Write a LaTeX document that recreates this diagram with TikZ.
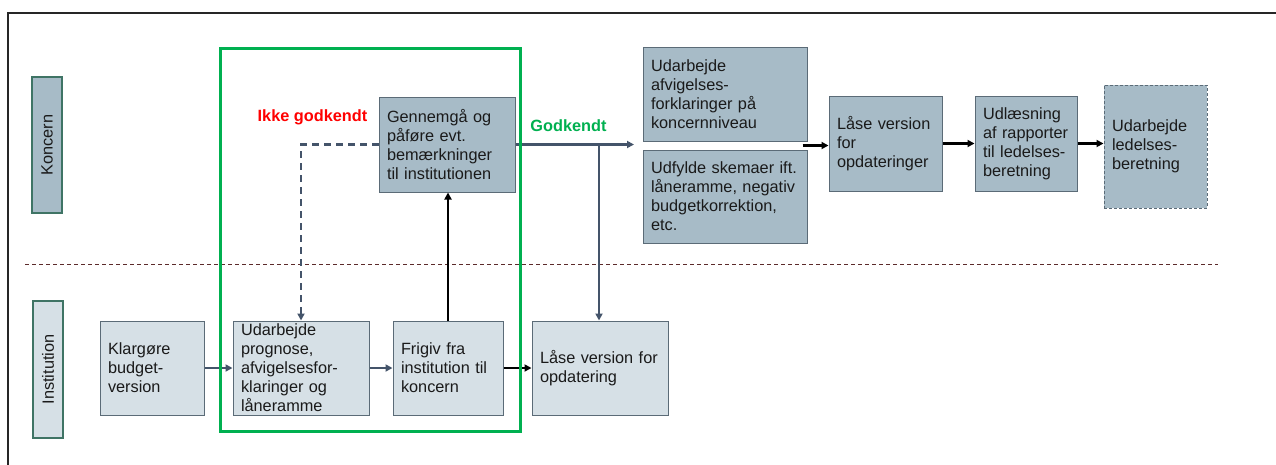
\documentclass[tikz,border=0pt]{standalone}
\usepackage{fontspec}
\setmainfont{Liberation Sans}
\usepackage{tikz}
\usetikzlibrary{arrows.meta, positioning, calc}
\definecolor{kfill}{HTML}{A7BBC7}
\definecolor{ifill}{HTML}{D6E0E6}
\definecolor{boxline}{HTML}{5B6B77}
\definecolor{lblline}{HTML}{3F7465}
\definecolor{flow}{HTML}{44546A}
\definecolor{okgreen}{HTML}{00B050}
\definecolor{nored}{HTML}{FF0000}
\definecolor{sepline}{HTML}{5C2B2B}
\definecolor{ink}{HTML}{1A1A1A}

\tikzset{
  kbox/.style={draw=boxline, fill=kfill, line width=1pt, inner xsep=8pt, inner ysep=0pt,
    align=left, text=ink, font=\fontsize{16.3}{19}\selectfont},
  ibox/.style={kbox, fill=ifill},
  lanebox/.style={draw=lblline, line width=1.2pt, rotate=90, inner sep=0pt, text=ink,
    font=\fontsize{16.3}{19}\selectfont},
  verdict/.style={font=\fontsize{16.3}{19}\selectfont\bfseries},
  grayflow/.style={draw=flow, line width=2.3pt, -{Triangle[length=7pt,width=7pt]}},
  blackflow/.style={draw=black, line width=2.3pt, -{Triangle[length=7pt,width=7pt]}},
  backflow/.style={grayflow, dash pattern=on 7pt off 5pt},
}

\begin{document}
\begin{tikzpicture}[x=1pt, y=-1pt]
\useasboundingbox (0,0) rectangle (1276,464);
\clip (0,0) rectangle (1276,464);

% outer frame and lane separator
\draw[line width=2.2pt, black!85] (8,13) rectangle (1300,500);
\draw[sepline, line width=1pt, dash pattern=on 4pt off 3pt] (25,264) -- (1218,264);

% lane labels
\node[lanebox, fill=kfill, minimum width=136pt, minimum height=30pt] (koncern) at (47,145) {Koncern};
\node[lanebox, fill=ifill, minimum width=137pt, minimum height=30pt] (institution) at (48,369.5) {Institution};

% Koncern row
\node[kbox, text width=120pt, minimum height=95pt] (gennemgaa) at (447,144.5)
  {Gennemgå og\\påføre evt.\\bemærkninger\\til institutionen};
\node[kbox, text width=148pt, minimum height=94pt] (udarbAfv) at (725,94)
  {Udarbejde\\afvigelses-\\forklaringer på\\koncernniveau};
\node[kbox, text width=148pt, minimum height=93pt] (udfylde) at (725,196.5)
  {Udfylde skemaer ift.\\låneramme, negativ\\budgetkorrektion,\\etc.};
\node[kbox, text width=97pt, minimum height=95pt] (laaseKon) at (885.5,143.5)
  {Låse version\\for\\opdateringer};
\node[kbox, text width=86pt, minimum height=95pt] (udlaes) at (1026,143.5)
  {Udlæsning\\af rapporter\\til ledelses-\\beretning};
\node[kbox, text width=87pt, minimum height=123pt, dash pattern=on 3pt off 2pt] (ledelses) at (1155.5,146.5)
  {Udarbejde\\ledelses-\\beretning};

% Institution row
\node[ibox, text width=88pt, minimum height=94pt] (klargoere) at (152,368)
  {Klargøre\\budget-\\version};
\node[ibox, text width=120pt, minimum height=94pt] (prognose) at (301,368)
  {Udarbejde\\prognose,\\afvigelsesfor-\\klaringer og\\låneramme};
\node[ibox, text width=94pt, minimum height=94pt] (frigiv) at (448,368)
  {Frigiv fra\\institution til\\koncern};
\node[ibox, text width=120pt, minimum height=94pt] (laaseInst) at (600,368)
  {Låse version for\\opdatering};

% review verdicts
\node[verdict, text=nored] (ikke) at (312.5,117) {Ikke godkendt};
\node[verdict, text=okgreen] (godkendt) at (568.5,126) {Godkendt};

% review outcomes
\coordinate (split) at (634,144.5);
\coordinate (branch) at (599,144.5);
\draw[grayflow] (gennemgaa.east) -- (split);
\draw[grayflow] (branch) -- (branch |- laaseInst.north);
\draw[backflow] (gennemgaa.west) -| (prognose.north);
\draw[blackflow] (frigiv.north) -- (frigiv.north |- gennemgaa.south);

% institution flow
\draw[grayflow] (klargoere) -- (prognose);
\draw[grayflow] (prognose) -- (frigiv);
\draw[blackflow] (frigiv) -- (laaseInst);

% koncern flow
\coordinate (merge) at ($(udarbAfv.south east)!0.5!(udfylde.north east) + (-5,0)$);
\draw[blackflow] (merge) -- (merge -| laaseKon.west);
\draw[blackflow] (laaseKon.east) -- (laaseKon.east -| udlaes.west);
\draw[blackflow] (udlaes.east) -- (udlaes.east -| ledelses.west);

% institution review frame
\draw[okgreen, line width=3pt] (220,48) rectangle (520,431);
\end{tikzpicture}
\end{document}
